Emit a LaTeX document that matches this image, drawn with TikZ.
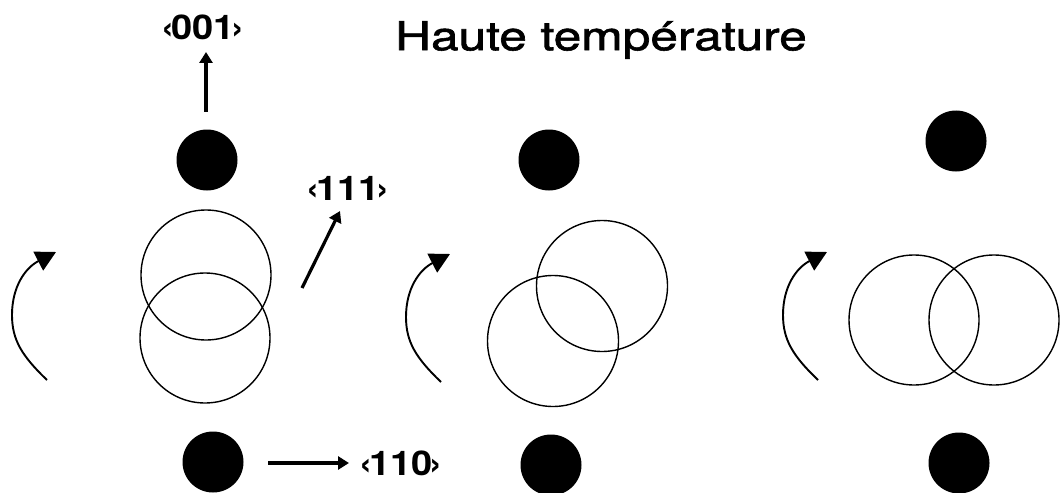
\documentclass[tikz,border=0pt]{standalone}
\usepackage{fontspec}
\setmainfont{TeX Gyre Heros}
\newfontfamily\titlefont[FakeBold=1.4]{TeX Gyre Heros}
\usetikzlibrary{arrows.meta}
\newcommand{\axlab}[1]{‹\kern-2.5pt#1\kern-2.5pt›}
\begin{document}
\begin{tikzpicture}[x=1pt,y=-1pt,
  atom/.style={circle,fill=black,minimum size=61pt,inner sep=0pt},
  orb/.style={draw=black,line width=1.4pt},
  rot/.style={line width=1.9pt,-{Triangle[length=20pt,width=21pt]}},
  axis/.style={line width=3.2pt,-{Triangle[length=11pt,width=13pt]}},
  lbl/.style={font=\bfseries\fontsize{34}{34}\selectfont,xscale=1.12,inner sep=0pt},
  title/.style={font=\titlefont\fontsize{40}{40}\selectfont,xscale=1.24,inner sep=0pt}]
\useasboundingbox (0,0) rectangle (1064,492);
% title
\node[title] (t) at (601,40) {Haute température};
% atoms
\node[atom] (a1) at (207,160) {};
\node[atom] (a2) at (549,160) {};
\node[atom] (a3) at (956,141) {};
\node[atom] (b1) at (213,462) {};
\node[atom] (b2) at (551,465) {};
\node[atom] (b3) at (959,463) {};
% orbitals
\draw[orb] (206,275) circle[radius=65];
\draw[orb] (205,338) circle[radius=65];
\draw[orb] (602,286) circle[radius=65.5];
\draw[orb] (553,341) circle[radius=65.5];
\draw[orb] (914,320) circle[radius=65];
\draw[orb] (994,320) circle[radius=65];
% rotation arrows
\foreach \dx/\dy in {0/0,394/2,771/0}{
  \begin{scope}[shift={(\dx,\dy)}]
    \draw[rot] (47,380) .. controls (22,356) and (12,340) .. (12,315)
      .. controls (12,287) and (25,268) .. (56,252);
  \end{scope}}
% axis labels and arrows
\node[lbl] (l1) at (203,27) {\axlab{001}};
\coordinate (s1) at (206,112);
\coordinate (e1) at (206,52);
\draw[axis] (s1) -- (e1);
\node[lbl] (l2) at (348,188) {\axlab{111}};
\coordinate (s2) at (302,288);
\coordinate (e2) at (340,211);
\draw[axis] (s2) -- (e2);
\node[lbl] (l3) at (401,463) {\axlab{110}};
\coordinate (s3) at (268,463);
\coordinate (e3) at (349,463);
\draw[axis] (s3) -- (e3);
\end{tikzpicture}
\end{document}
